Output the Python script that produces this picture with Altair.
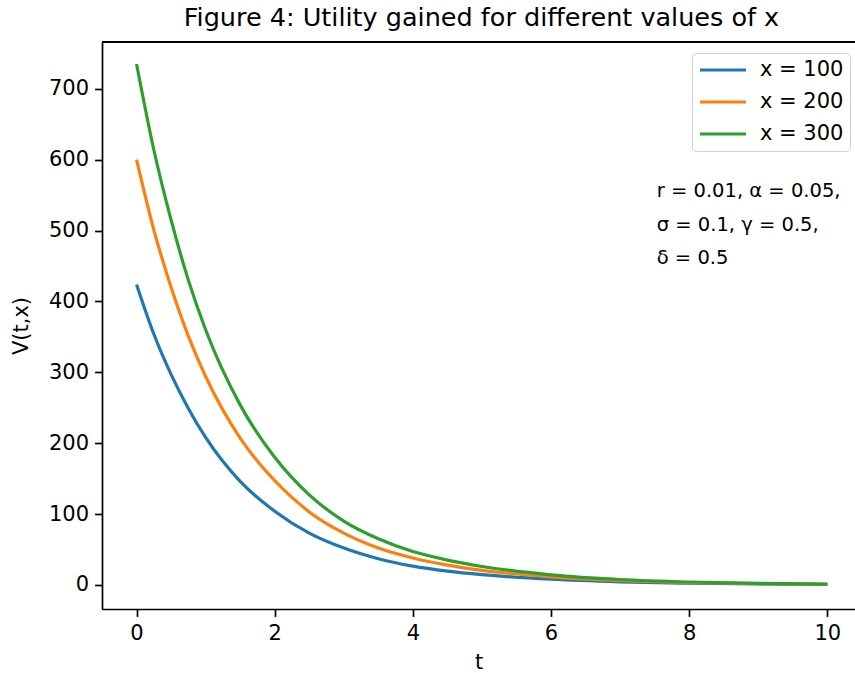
import altair as alt
import pandas as pd

# ---- data ----
t_vals = [0, 0.25, 0.5, 0.75, 1, 1.5, 2, 2.5, 3, 3.5, 4, 4.5, 5, 6, 7, 8, 9, 10]
v_x100 = [424, 354, 297, 249, 208, 146, 104, 73, 52, 37, 26.5, 19.5, 14.5, 8, 4.4, 2.4, 1.3, 0.6]
v_x200 = [600, 501, 420, 351, 294, 207, 147, 103, 73, 52, 38, 28, 20.5, 11.4, 6.2, 3.4, 1.8, 0.9]
v_x300 = [735, 614, 515, 430, 360, 254, 180, 127, 90, 65, 47, 35, 26, 14.2, 7.6, 4.1, 2.2, 1.1]
series_labels = ["x = 100", "x = 200", "x = 300"]
series_colors = ["#1f77b4", "#ff7f0e", "#2ca02c"]

x_ticks = [0, 2, 4, 6, 8, 10]
y_ticks = [0, 100, 200, 300, 400, 500, 600, 700]

note_lines = ["r = 0.01, α = 0.05,", "σ = 0.1, γ = 0.5,", "δ = 0.5"]
note_t = [7.53, 7.53, 7.53]
note_v = [556, 508, 461]

title_text = "Figure 4: Utility gained for different values of x"

# ---- build table ----
rows = []
for lab, vals in zip(series_labels, [v_x100, v_x200, v_x300]):
    for t, v in zip(t_vals, vals):
        rows.append({"t": t, "V": v, "series": lab})
df = pd.DataFrame(rows)
notes = pd.DataFrame({"t": note_t, "V": note_v, "txt": note_lines})

W, H = 753, 567
FONT = "DejaVu Sans"

xscale = alt.Scale(domain=[-0.5, 10.4], nice=False, zero=False)
yscale = alt.Scale(domain=[-34, 766], nice=False, zero=False)

xaxis = alt.Axis(values=x_ticks, format="d", grid=False, tickColor="black", tickWidth=1.7,
                 tickSize=7.4, domainColor="black", domainWidth=1.7,
                 labelFontSize=21, labelColor="black", labelPadding=6,
                 titleFontSize=21, titleFontWeight="normal", titleColor="black",
                 titlePadding=8, labelFont=FONT, titleFont=FONT)
yaxis = alt.Axis(values=y_ticks, format="d", grid=False, tickColor="black", tickWidth=1.7,
                 tickSize=7.4, domainColor="black", domainWidth=1.7,
                 labelFontSize=21, labelColor="black", labelPadding=6,
                 titleFontSize=21, titleFontWeight="normal", titleColor="black",
                 titlePadding=17, labelFont=FONT, titleFont=FONT)

lines = alt.Chart(df).mark_line(strokeWidth=3.2, interpolate="monotone", clip=True).encode(
    x=alt.X("t:Q", scale=xscale, axis=xaxis, title="t"),
    y=alt.Y("V:Q", scale=yscale, axis=yaxis, title="V(t,x)"),
    color=alt.Color("series:N",
                    scale=alt.Scale(domain=series_labels, range=series_colors),
                    legend=alt.Legend(title=None, orient="none", legendX=590, legendY=11,
                                      symbolType="stroke", symbolSize=2116,
                                      symbolStrokeWidth=3.2, clipHeight=22,
                                      rowPadding=10, labelFontSize=21,
                                      labelFont=FONT, labelColor="black",
                                      labelOffset=12, padding=6,
                                      strokeColor="#d0d0d0", cornerRadius=4,
                                      fillColor="white")),
)

text = alt.Chart(notes).mark_text(align="left", baseline="middle", fontSize=19.5,
                                  font=FONT, color="black").encode(
    x=alt.X("t:Q", scale=xscale),
    y=alt.Y("V:Q", scale=yscale),
    text="txt:N",
)

top_spine = alt.Chart(notes).mark_rule(color="black", strokeWidth=1.7).encode(
    x=alt.value(0), x2=alt.value(W), y=alt.value(0)
)

chart = alt.layer(lines, text, top_spine).properties(
    width=W, height=H,
    title=alt.Title(title_text, fontSize=25.5, font=FONT, fontWeight="normal",
                    color="black", anchor="middle", offset=10, dx=3),
    padding={"left": 102, "top": 42, "right": 0, "bottom": 64},
    autosize=alt.AutoSizeParams(type="none"),
).configure_view(stroke=None).configure(font=FONT, background="white")

chart.save("out.html", embed_options={"renderer": "svg", "actions": False})
